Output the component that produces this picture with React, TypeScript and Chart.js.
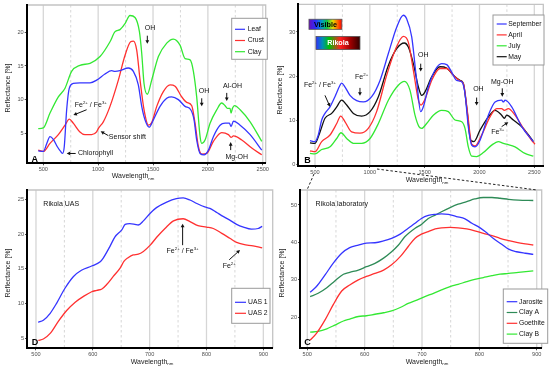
import React, { useEffect, useRef } from "react";
import { Chart, registerables } from "chart.js";
Chart.register(...registerables);

type P = [number, number];
const FONT = '"Liberation Sans", Arial, Helvetica, sans-serif';

// ---------- Panel A (field spectra) ----------
const A_LEAF: P[] = [
  [454, 2.4], [500, 2.3], [530, 3.4], [561, 4.5], [591, 4.1], [628, 3.0], [658, 2.3], [676, 2.0], [691, 3.0],
  [713, 8.5], [737, 11.7], [773, 12.4], [834, 12.5], [926, 12.5], [986, 12.9], [1062, 13.8], [1123, 14.3],
  [1154, 14.2], [1199, 14.3], [1275, 14.7], [1321, 14.2], [1366, 12.2], [1397, 9.0], [1427, 7.0], [1464, 5.9],
  [1503, 7.0], [1564, 9.0], [1625, 10.2], [1670, 10.4], [1731, 10.0], [1792, 9.0], [1844, 8.5], [1874, 7.0],
  [1898, 4.0], [1929, 2.0], [1965, 1.8], [2005, 2.5], [2050, 4.5], [2111, 6.2], [2157, 6.5], [2196, 6.5],
  [2211, 6.0], [2233, 6.8], [2294, 6.2], [2385, 4.8], [2491, 2.5],
];
const A_CRUST: P[] = [
  [454, 2.5], [500, 2.3], [561, 3.5], [637, 4.8], [698, 6.2], [737, 7.1], [773, 6.5], [834, 5.2], [880, 4.8],
  [941, 4.8], [986, 5.2], [1001, 5.7], [1047, 6.7], [1108, 9.0], [1184, 12.9], [1245, 16.6], [1296, 18.6],
  [1321, 18.7], [1351, 17.4], [1382, 12.9], [1418, 8.5], [1458, 6.2], [1488, 6.6], [1534, 9.0], [1594, 11.2],
  [1655, 12.2], [1701, 12.0], [1762, 10.4], [1807, 9.6], [1853, 9.1], [1883, 6.5], [1914, 3.0], [1944, 1.9],
  [1990, 2.0], [2050, 3.8], [2126, 5.1], [2187, 4.8], [2211, 4.4], [2233, 4.6], [2309, 4.0], [2400, 2.8],
  [2491, 1.8],
];
const A_CLAY: P[] = [
  [454, 5.7], [500, 5.8], [561, 8.0], [637, 10.4], [698, 11.7], [758, 14.2], [834, 15.1], [926, 15.4],
  [1017, 16.4], [1108, 18.6], [1154, 20.1], [1199, 20.4], [1245, 21.3], [1290, 22.5], [1336, 22.2],
  [1376, 20.1], [1397, 16.9], [1418, 12.4], [1448, 10.8], [1488, 12.9], [1549, 16.4], [1625, 18.4],
  [1685, 19.0], [1746, 18.1], [1792, 16.1], [1838, 15.9], [1868, 14.2], [1898, 10.4], [1929, 4.5],
  [1944, 3.5], [1974, 4.0], [2020, 6.5], [2081, 8.5], [2126, 9.5], [2157, 9.1], [2178, 8.7], [2202, 8.7],
  [2211, 8.0], [2224, 8.7], [2242, 9.1], [2294, 8.5], [2385, 6.7], [2491, 3.8],
];
const A_X_TICKS = [500, 1000, 1500, 2000, 2500];
const A_Y_TICKS = [5, 10, 15, 20];

// ---------- Panel B (seasonal spectra) ----------
const B_SEP: P[] = [
  [454, 5.3], [500, 5.1], [530, 6.6], [561, 10.0], [591, 11.5], [637, 13.0], [682, 15.3], [728, 17.9],
  [743, 18.4], [774, 17.5], [819, 15.6], [880, 14.4], [941, 14.1], [1017, 15.3], [1093, 19.0], [1169, 25.1],
  [1245, 31.1], [1306, 33.8], [1336, 33.0], [1382, 28.9], [1427, 19.0], [1464, 11.9], [1488, 13.0],
  [1534, 17.5], [1594, 21.3], [1655, 22.8], [1701, 22.6], [1746, 20.9], [1792, 19.0], [1838, 18.7],
  [1868, 16.0], [1898, 8.5], [1929, 4.3], [1959, 3.9], [2005, 5.4], [2081, 11.1], [2142, 14.1],
  [2202, 14.5], [2218, 14.1], [2233, 14.5], [2294, 13.0], [2385, 8.5], [2491, 5.1],
];
const B_APR: P[] = [
  [454, 3.0], [500, 2.8], [561, 5.1], [637, 6.6], [698, 9.2], [734, 10.9], [774, 9.6], [834, 7.3], [910, 7.0],
  [986, 8.1], [1062, 11.9], [1154, 20.2], [1230, 25.8], [1306, 29.0], [1351, 27.7], [1397, 21.3],
  [1443, 14.5], [1467, 13.4], [1503, 14.7], [1564, 19.0], [1640, 21.7], [1701, 21.7], [1762, 20.2],
  [1822, 18.9], [1853, 18.3], [1892, 11.5], [1929, 4.5], [1959, 4.1], [2020, 6.6], [2096, 10.7],
  [2157, 12.6], [2202, 12.6], [2227, 12.2], [2263, 12.6], [2324, 11.1], [2400, 8.1], [2476, 5.4], [2506, 4.5],
];
const B_JUL: P[] = [
  [454, 2.4], [500, 2.3], [561, 3.3], [637, 3.9], [698, 5.8], [737, 7.1], [789, 5.8], [850, 4.7], [926, 4.7],
  [1002, 5.8], [1078, 9.2], [1169, 14.5], [1260, 17.9], [1315, 18.8], [1366, 16.8], [1412, 11.1],
  [1448, 8.5], [1473, 8.1], [1518, 9.2], [1579, 11.1], [1655, 12.2], [1716, 11.9], [1777, 10.0],
  [1838, 9.6], [1868, 8.1], [1898, 3.9], [1929, 1.8], [1974, 1.7], [2035, 2.6], [2111, 4.3], [2172, 5.1],
  [2218, 4.7], [2248, 4.5], [2324, 3.9], [2415, 2.4], [2491, 1.8],
];
const B_MAY: P[] = [
  [454, 4.8], [500, 4.7], [546, 7.3], [591, 10.4], [652, 11.5], [698, 13.0], [743, 14.5], [789, 13.4],
  [850, 11.5], [926, 10.9], [1002, 11.9], [1078, 15.3], [1169, 22.4], [1245, 26.2], [1315, 27.5],
  [1351, 26.6], [1397, 22.8], [1443, 17.5], [1473, 15.6], [1503, 16.4], [1564, 19.8], [1640, 22.1],
  [1701, 21.8], [1762, 20.2], [1822, 19.0], [1853, 18.3], [1883, 13.0], [1920, 5.4], [1950, 5.1],
  [2005, 7.7], [2081, 10.7], [2142, 12.2], [2202, 11.1], [2227, 10.4], [2248, 11.1], [2309, 10.0],
  [2400, 8.1], [2491, 5.1],
];
const B_X_TICKS = [500, 1000, 1500, 2000, 2500];
const B_Y_TICKS = [0, 10, 20, 30];

// ---------- Panel D (Rikola UAS) ----------
const D_UAS1: P[] = [
  [504, 7.3], [513, 7.6], [525, 8.6], [536, 10.0], [551, 12.2], [566, 13.9], [580, 14.8], [598, 15.4],
  [613, 16.0], [618, 16.5], [630, 18.2], [639, 19.6], [651, 20.6], [657, 21.4], [665, 21.5], [674, 21.4],
  [680, 21.3], [689, 21.9], [701, 23.0], [712, 23.8], [730, 24.6], [747, 25.1], [759, 25.2], [771, 24.9],
  [783, 24.4], [797, 23.9], [806, 23.7], [818, 23.1], [830, 22.5], [841, 22.0], [853, 21.4], [865, 21.0],
  [879, 20.7], [891, 20.8], [898, 21.1],
];
const D_UAS2: P[] = [
  [504, 4.7], [513, 4.9], [525, 5.7], [539, 7.4], [554, 9.0], [569, 10.2], [583, 11.0], [598, 11.7],
  [607, 11.9], [616, 12.1], [624, 12.7], [636, 13.9], [648, 15.1], [655, 16.1], [662, 16.6], [671, 17.0],
  [680, 17.1], [689, 17.5], [701, 18.4], [712, 19.5], [727, 20.8], [742, 21.9], [759, 22.2], [771, 21.8],
  [785, 21.2], [800, 21.0], [812, 20.8], [827, 20.1], [841, 19.4], [853, 18.8], [865, 18.5], [882, 18.3],
  [898, 18.0],
];
const D_X_TICKS = [500, 600, 700, 800, 900];
const D_Y_TICKS = [5, 10, 15, 20, 25];

// ---------- Panel C (Rikola laboratory) ----------
const C_JAROSITE: P[] = [
  [505, 26.7], [516, 28.2], [531, 31.3], [545, 34.4], [560, 37.1], [574, 38.6], [589, 39.3], [603, 39.8],
  [618, 39.9], [633, 40.4], [647, 41.1], [662, 42.2], [676, 43.8], [688, 45.1], [699, 46.4], [711, 47.2],
  [723, 47.5], [734, 47.6], [746, 47.5], [760, 46.9], [775, 46.3], [787, 45.1], [798, 44.2], [810, 42.9],
  [824, 41.1], [839, 39.5], [851, 38.2], [865, 37.5], [880, 37.1], [894, 36.8],
];
const C_CLAY_A: P[] = [
  [505, 25.5], [519, 26.4], [534, 27.9], [548, 29.7], [563, 31.5], [574, 32.0], [589, 32.6], [603, 33.5],
  [618, 34.4], [633, 35.8], [647, 37.5], [659, 39.3], [670, 41.5], [688, 43.8], [699, 44.8], [711, 46.4],
  [723, 47.3], [734, 48.2], [749, 49.3], [763, 50.2], [778, 50.9], [792, 51.6], [807, 52.0], [822, 52.0],
  [836, 51.8], [851, 51.5], [868, 51.3], [894, 51.2],
];
const C_GOETHITE: P[] = [
  [505, 13.9], [516, 15.7], [531, 19.3], [545, 23.3], [560, 27.0], [574, 28.6], [589, 30.0], [603, 30.9],
  [618, 31.7], [633, 32.6], [647, 34.0], [662, 36.2], [676, 38.9], [688, 41.1], [699, 42.2], [711, 42.9],
  [723, 43.6], [734, 43.9], [749, 44.0], [763, 43.9], [778, 43.6], [792, 43.1], [807, 42.4], [822, 41.8],
  [836, 41.1], [851, 40.5], [865, 40.0], [880, 39.6], [894, 39.3],
];
const C_CLAY_B: P[] = [
  [505, 16.0], [519, 16.2], [534, 16.9], [548, 17.9], [563, 19.0], [574, 19.5], [589, 20.2], [603, 20.4],
  [618, 20.8], [633, 21.2], [647, 21.7], [662, 22.6], [676, 23.7], [691, 24.6], [705, 25.5], [720, 26.4],
  [734, 27.3], [749, 28.2], [763, 28.8], [778, 29.5], [792, 30.1], [807, 30.6], [822, 31.1], [836, 31.5],
  [851, 31.7], [868, 32.0], [894, 32.4],
];
const C_X_TICKS = [500, 600, 700, 800, 900];
const C_Y_TICKS = [20, 30, 40, 50];

const BLUE = "#3535ff";
const RED = "#ff3030";
const GREEN = "#33e833";
const TEAL = "#2e8b57";
const BLACK = "#111111";

interface Series { label: string; color: string; data: P[] }
interface Txt { x: number; y: number; t: string; align?: "left" | "center" }
interface Arr { x1: number; y1: number; x2: number; y2: number }
interface GBox { x1: number; x2: number; y1: number; y2: number; t: string; tc: string; stops: [number, string][] }
interface Legend { x: number; y: number; w: number; h: number; first: number; step: number; s1: number; s2: number; tx: number }
interface Spec {
  left: number; top: number;
  area: { l: number; t: number; r: number; b: number };
  xMin: number; xMax: number; yMin: number; yMax: number;
  xTicks: number[]; yTicks: number[]; major: number; minor: number;
  series: Series[]; texts: Txt[]; arrows: Arr[]; boxes?: GBox[];
  letter: string; letterX: number; letterY: number;
  legend: Legend; xTitleX: number; xTitleY: number; yTitleX: number; yTitleY: number;
}

const SPECS: Spec[] = [
  {
    left: 0, top: 0, area: { l: 26.7, t: 5, r: 265.7, b: 163.3 },
    xMin: 348.7, xMax: 2527, yMin: 0.54, yMax: 24.06, xTicks: A_X_TICKS, yTicks: A_Y_TICKS, major: 500, minor: 250,
    series: [
      { label: "Leaf", color: BLUE, data: A_LEAF },
      { label: "Crust", color: RED, data: A_CRUST },
      { label: "Clay", color: GREEN, data: A_CLAY },
    ],
    texts: [
      { x: 1473, y: 20.7, t: "OH" }, { x: 1965, y: 11.3, t: "OH" }, { x: 2224, y: 12.0, t: "Al-OH" },
      { x: 2263, y: 1.5, t: "Mg-OH" }, { x: 933, y: 9.2, t: "Fe^{2+} / Fe^{3+}" },
      { x: 1266, y: 4.5, t: "Sensor shift" }, { x: 976, y: 2.0, t: "Chlorophyll" },
    ],
    arrows: [
      { x1: 1448, y1: 19.5, x2: 1448, y2: 18.3 }, { x1: 1944, y1: 10.2, x2: 1944, y2: 9.0 },
      { x1: 2172, y1: 11.0, x2: 2172, y2: 9.8 }, { x1: 2208, y1: 2.5, x2: 2208, y2: 3.7 },
      { x1: 895, y1: 8.5, x2: 774, y2: 7.7 }, { x1: 1093, y1: 4.65, x2: 1023, y2: 5.3 },
      { x1: 795, y1: 2.0, x2: 713, y2: 2.0 },
    ],
    letter: "A", letterX: 31.5, letterY: 162,
    legend: { x: 231.7, y: 18.3, w: 35.6, h: 41, first: 29.3, step: 11.2, s1: 235, s2: 245, tx: 247.7 },
    xTitleX: 133, xTitleY: 176, yTitleX: 8.3, yTitleY: 88,
  },
  {
    left: 275, top: 0, area: { l: 23.3, t: 4, r: 268.3, b: 166 },
    xMin: 347.7, xMax: 2582, yMin: -0.45, yMax: 36.28, xTicks: B_X_TICKS, yTicks: B_Y_TICKS, major: 500, minor: 250,
    series: [
      { label: "September", color: BLUE, data: B_SEP },
      { label: "April", color: RED, data: B_APR },
      { label: "July", color: GREEN, data: B_JUL },
      { label: "May", color: BLACK, data: B_MAY },
    ],
    texts: [
      { x: 1488, y: 24.7, t: "OH" }, { x: 1990, y: 17.0, t: "OH" }, { x: 2208, y: 18.7, t: "Mg-OH" },
      { x: 2166, y: 7.3, t: "Fe^{3+}" }, { x: 925, y: 19.8, t: "Fe^{2+}" }, { x: 545, y: 17.9, t: "Fe^{2+} / Fe^{3+}" },
    ],
    arrows: [
      { x1: 1464, y1: 22.8, x2: 1464, y2: 21.0 }, { x1: 1974, y1: 15.1, x2: 1974, y2: 13.3 },
      { x1: 2208, y1: 17.2, x2: 2208, y2: 15.3 }, { x1: 2202, y1: 8.5, x2: 2263, y2: 9.5 },
      { x1: 910, y1: 17.3, x2: 910, y2: 15.5 }, { x1: 591, y1: 15.6, x2: 637, y2: 13.0 },
    ],
    boxes: [
      {
        x1: 445, x2: 745, y1: 30.6, y2: 32.9, t: "Visible", tc: "#000",
        stops: [[0, "#6a10b8"], [0.2, "#2a2aff"], [0.4, "#00a0c0"], [0.55, "#10c040"], [0.72, "#e0e000"], [0.86, "#ff7000"], [1, "#ff0000"]],
      },
      {
        x1: 509, x2: 910, y1: 26.0, y2: 29.0, t: "Rikola", tc: "#fff",
        stops: [[0, "#3030ff"], [0.15, "#0090b0"], [0.3, "#00c000"], [0.55, "#ff2020"], [0.78, "#a00000"], [1, "#300000"]],
      },
    ],
    letter: "B", letterX: 29.3, letterY: 162.7,
    legend: { x: 218, y: 15, w: 51, h: 50, first: 24, step: 10.9, s1: 221.7, s2: 231.7, tx: 233.3 },
    xTitleX: 152, xTitleY: 180, yTitleX: 5.5, yTitleY: 90,
  },
  {
    left: 0, top: 185, area: { l: 27, t: 5, r: 272.7, b: 163.3 },
    xMin: 484.2, xMax: 916.5, yMin: 3.56, yMax: 26.34, xTicks: D_X_TICKS, yTicks: D_Y_TICKS, major: 100, minor: 50,
    series: [
      { label: "UAS 1", color: BLUE, data: D_UAS1 },
      { label: "UAS 2", color: RED, data: D_UAS2 },
    ],
    texts: [
      { x: 513, y: 24.3, t: "Rikola UAS", align: "left" },
      { x: 758, y: 17.5, t: "Fe^{2+} / Fe^{3+}" }, { x: 840, y: 15.4, t: "Fe^{2+}" },
    ],
    arrows: [
      { x1: 758, y1: 18.4, x2: 758, y2: 21.5 }, { x1: 840, y1: 16.3, x2: 859, y2: 17.7 },
    ],
    letter: "D", letterX: 31.7, letterY: 160,
    legend: { x: 231.7, y: 103.3, w: 38.3, h: 35, first: 117.3, step: 11, s1: 235, s2: 246, tx: 248 },
    xTitleX: 152, xTitleY: 176.7, yTitleX: 8.3, yTitleY: 88,
  },
  {
    left: 275, top: 185, area: { l: 25, t: 5, r: 266.7, b: 163.3 },
    xMin: 487.3, xMax: 908.7, yMin: 11.7, yMax: 54.0, xTicks: C_X_TICKS, yTicks: C_Y_TICKS, major: 100, minor: 50,
    series: [
      { label: "Jarosite", color: BLUE, data: C_JAROSITE },
      { label: "Clay A", color: TEAL, data: C_CLAY_A },
      { label: "Goethite", color: RED, data: C_GOETHITE },
      { label: "Clay B", color: GREEN, data: C_CLAY_B },
    ],
    texts: [{ x: 514.5, y: 50.2, t: "Rikola laboratory", align: "left" }],
    arrows: [],
    letter: "C", letterX: 29.3, letterY: 160,
    legend: { x: 228.3, y: 104, w: 44.4, h: 54.3, first: 116.7, step: 10.8, s1: 231.7, s2: 242.3, tx: 244 },
    xTitleX: 152, xTitleY: 176.7, yTitleX: 7, yTitleY: 88,
  },
];

function parseRich(s: string): { t: string; k: number }[] {
  const out: { t: string; k: number }[] = [];
  let buf = "";
  let i = 0;
  while (i < s.length) {
    const c = s[i];
    if ((c === "^" || c === "_") && s[i + 1] === "{") {
      if (buf) out.push({ t: buf, k: 0 });
      buf = "";
      const end = s.indexOf("}", i);
      out.push({ t: s.slice(i + 2, end), k: c === "^" ? 1 : 2 });
      i = end + 1;
    } else {
      buf += c;
      i++;
    }
  }
  if (buf) out.push({ t: buf, k: 0 });
  return out;
}

function drawRich(ctx: CanvasRenderingContext2D, s: string, x: number, y: number, size: number, align: string, color: string, bold = false) {
  const parts = parseRich(s);
  const f = (sz: number) => `${bold ? "bold " : ""}${sz}px ${FONT}`;
  let w = 0;
  for (const p of parts) {
    ctx.font = f(p.k ? size * 0.62 : size);
    w += ctx.measureText(p.t).width;
  }
  let cx = align === "center" ? x - w / 2 : x;
  ctx.textAlign = "left";
  ctx.textBaseline = "middle";
  ctx.fillStyle = color;
  for (const p of parts) {
    const sz = p.k ? size * 0.62 : size;
    ctx.font = f(sz);
    const dy = p.k === 1 ? -size * 0.32 : p.k === 2 ? size * 0.35 : 0;
    ctx.fillText(p.t, cx, y + dy);
    cx += ctx.measureText(p.t).width;
  }
}

function drawArrow(ctx: CanvasRenderingContext2D, x1: number, y1: number, x2: number, y2: number) {
  const ang = Math.atan2(y2 - y1, x2 - x1);
  const hl = 3.6, hw = 1.9;
  ctx.strokeStyle = "#111";
  ctx.fillStyle = "#111";
  ctx.lineWidth = 1;
  ctx.beginPath();
  ctx.moveTo(x1, y1);
  ctx.lineTo(x2 - Math.cos(ang) * hl * 0.8, y2 - Math.sin(ang) * hl * 0.8);
  ctx.stroke();
  ctx.beginPath();
  ctx.moveTo(x2, y2);
  ctx.lineTo(x2 - Math.cos(ang) * hl + Math.sin(ang) * hw, y2 - Math.sin(ang) * hl - Math.cos(ang) * hw);
  ctx.lineTo(x2 - Math.cos(ang) * hl - Math.sin(ang) * hw, y2 - Math.sin(ang) * hl + Math.cos(ang) * hw);
  ctx.closePath();
  ctx.fill();
}

function buildConfig(s: Spec): any {
  const W = 275, H = 185;
  const deco = {
    id: "deco",
    beforeDraw(chart: any) {
      const ctx: CanvasRenderingContext2D = chart.ctx;
      const a = chart.chartArea;
      const xs = chart.scales.x;
      ctx.save();
      ctx.fillStyle = "#fff";
      ctx.fillRect(0, 0, W, H);
      for (let v = s.minor; v <= s.xMax; v += s.minor) {
        if (v < s.xMin) continue;
        const px = xs.getPixelForValue(v);
        const major = Math.abs(v % s.major) < 1e-6;
        ctx.beginPath();
        ctx.strokeStyle = major ? "#d6d6d6" : "#cdcdcd";
        ctx.lineWidth = major ? 1.3 : 0.8;
        ctx.setLineDash(major ? [] : [2.5, 2.5]);
        ctx.moveTo(px, a.top);
        ctx.lineTo(px, a.bottom);
        ctx.stroke();
      }
      ctx.setLineDash([]);
      ctx.strokeStyle = "#c4c4c4";
      ctx.lineWidth = 1.3;
      ctx.beginPath();
      ctx.moveTo(a.left, a.top);
      ctx.lineTo(a.right, a.top);
      ctx.lineTo(a.right, a.bottom);
      ctx.stroke();
      ctx.restore();
    },
    afterDraw(chart: any) {
      const ctx: CanvasRenderingContext2D = chart.ctx;
      const xs = chart.scales.x, ys = chart.scales.y;
      const a = chart.chartArea;
      ctx.save();
      // gradient boxes
      for (const b of s.boxes || []) {
        const x1 = xs.getPixelForValue(b.x1), x2 = xs.getPixelForValue(b.x2);
        const y1 = ys.getPixelForValue(b.y2), y2 = ys.getPixelForValue(b.y1);
        const g = ctx.createLinearGradient(x1, 0, x2, 0);
        for (const [o, c] of b.stops) g.addColorStop(o, c);
        ctx.fillStyle = g;
        ctx.fillRect(x1, y1, x2 - x1, y2 - y1);
        ctx.strokeStyle = "#555";
        ctx.lineWidth = 0.8;
        ctx.strokeRect(x1, y1, x2 - x1, y2 - y1);
        drawRich(ctx, b.t, (x1 + x2) / 2, (y1 + y2) / 2 + 0.5, 7.2, "center", b.tc, true);
      }
      // annotation texts and arrows
      for (const t of s.texts) {
        drawRich(ctx, t.t, xs.getPixelForValue(t.x), ys.getPixelForValue(t.y), 7, t.align || "center", "#111");
      }
      for (const r of s.arrows) {
        drawArrow(ctx, xs.getPixelForValue(r.x1), ys.getPixelForValue(r.y1), xs.getPixelForValue(r.x2), ys.getPixelForValue(r.y2));
      }
      // legend
      const L = s.legend;
      ctx.fillStyle = "#fff";
      ctx.fillRect(L.x, L.y, L.w, L.h);
      ctx.strokeStyle = "#9a9a9a";
      ctx.lineWidth = 1;
      ctx.strokeRect(L.x, L.y, L.w, L.h);
      s.series.forEach((se, i) => {
        const yy = L.first + i * L.step;
        ctx.strokeStyle = se.color;
        ctx.lineWidth = 1.2;
        ctx.beginPath();
        ctx.moveTo(L.s1, yy);
        ctx.lineTo(L.s2, yy);
        ctx.stroke();
        drawRich(ctx, se.label, L.tx, yy, 6.8, "left", "#111");
      });
      // panel letter
      ctx.font = `bold 9px ${FONT}`;
      ctx.fillStyle = "#000";
      ctx.textAlign = "left";
      ctx.textBaseline = "alphabetic";
      ctx.fillText(s.letter, s.letterX, s.letterY);
      // axis titles
      drawRich(ctx, "Wavelength_{nm}", s.xTitleX, s.xTitleY, 7, "center", "#222");
      ctx.translate(s.yTitleX, s.yTitleY);
      ctx.rotate(-Math.PI / 2);
      drawRich(ctx, "Reflectance [%]", 0, 0, 7, "center", "#222");
      ctx.restore();
      void a;
    },
  };
  const tickFont = { size: 5.6, family: FONT };
  return {
    type: "line",
    data: {
      datasets: s.series.map((se) => ({
        label: se.label,
        data: se.data.map(([x, y]) => ({ x, y })),
        borderColor: se.color,
        backgroundColor: se.color,
        borderWidth: 1.3,
        pointRadius: 0,
        cubicInterpolationMode: "monotone",
        fill: false,
      })),
    },
    options: {
      animation: false,
      responsive: false,
      devicePixelRatio: 1,
      events: [],
      layout: { padding: { left: 0, top: s.area.t, right: W - s.area.r, bottom: 0 } },
      plugins: { legend: { display: false }, tooltip: { enabled: false }, title: { display: false } },
      scales: {
        x: {
          type: "linear",
          min: s.xMin,
          max: s.xMax,
          afterBuildTicks: (sc: any) => { sc.ticks = s.xTicks.map((v) => ({ value: v })); },
          afterFit: (sc: any) => { sc.height = H - s.area.b; },
          ticks: { font: tickFont, color: "#505050", padding: 1, maxRotation: 0, autoSkip: false, callback: (v: any) => String(v) },
          grid: { display: true, drawOnChartArea: false, drawTicks: true, tickLength: 2, color: "#505050", tickColor: "#505050" },
          border: { display: true, color: "#000", width: 2 },
        },
        y: {
          type: "linear",
          min: s.yMin,
          max: s.yMax,
          afterBuildTicks: (sc: any) => { sc.ticks = s.yTicks.map((v) => ({ value: v })); },
          afterFit: (sc: any) => { sc.width = s.area.l; },
          ticks: { font: tickFont, color: "#505050", padding: 1, autoSkip: false, callback: (v: any) => String(v) },
          grid: { display: true, drawOnChartArea: false, drawTicks: true, tickLength: 2, color: "#505050", tickColor: "#505050" },
          border: { display: true, color: "#000", width: 2 },
        },
      },
    },
    plugins: [deco],
  };
}

function Panel({ spec }: { spec: Spec }) {
  const ref = useRef<HTMLCanvasElement>(null);
  useEffect(() => {
    const chart = new Chart(ref.current as HTMLCanvasElement, buildConfig(spec));
    return () => chart.destroy();
  }, [spec]);
  return (
    <canvas
      ref={ref}
      width={275}
      height={185}
      style={{ position: "absolute", left: spec.left, top: spec.top, width: 275, height: 185 }}
    />
  );
}

export default function App() {
  return (
    <div style={{ position: "absolute", left: 0, top: 0, width: 550, height: 370, background: "#fff", overflow: "hidden" }}>
      {SPECS.map((sp, i) => (
        <Panel key={i} spec={sp} />
      ))}
      <svg width={550} height={370} style={{ position: "absolute", left: 0, top: 0, pointerEvents: "none" }}>
        <line x1={314} y1={174} x2={307} y2={190} stroke="#222" strokeWidth={1} strokeDasharray="2.5 2" />
        <line x1={377} y1={169} x2={537} y2={190} stroke="#222" strokeWidth={1} strokeDasharray="2.5 2" />
      </svg>
    </div>
  );
}
